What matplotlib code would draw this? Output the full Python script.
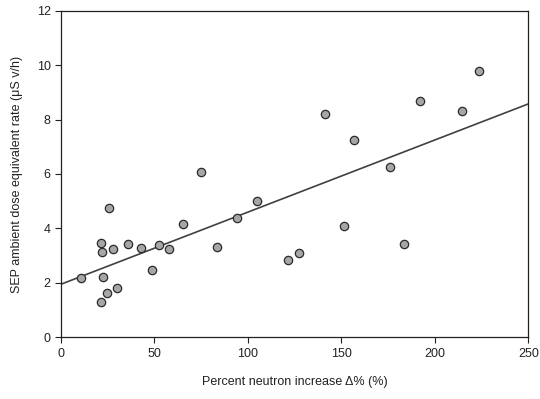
import matplotlib.pyplot as plt
import numpy as np

plt.rcParams['font.family'] = ['Liberation Sans', 'DejaVu Sans']

# Data
neutron_increase = [10.7, 21.4, 22.1, 25.7, 28.0, 22.6, 24.4, 21.6, 30.1, 35.7,
                    42.8, 48.7, 52.4, 57.8, 65.4, 74.9, 83.5, 94.0, 104.9, 121.3,
                    127.5, 141.1, 151.3, 156.6, 176.0, 183.7, 192.2, 214.3, 223.8]
dose_rate = [2.18, 3.46, 3.13, 4.74, 3.25, 2.23, 1.62, 1.29, 1.82, 3.42,
             3.29, 2.48, 3.38, 3.24, 4.16, 6.07, 3.32, 4.39, 5.01, 2.84,
             3.09, 8.20, 4.10, 7.24, 6.27, 3.42, 8.67, 8.30, 9.77]

# Linear fit line (intercept, slope) as shown in the figure
fit_intercept = 1.95
fit_slope = 0.0265

fig = plt.figure(figsize=(5.4, 3.99), dpi=100)
ax = fig.add_axes([61 / 540, 1 - 337.3 / 399, 467.3 / 540, 326.6 / 399])

xfit = np.array([0, 250])
ax.plot(xfit, fit_intercept + fit_slope * xfit, color='#404040', lw=1.2, zorder=2)

ax.scatter(neutron_increase, dose_rate, s=36, facecolor='#a6a6a6',
           edgecolor='#2b2b2b', linewidth=0.9, zorder=3, clip_on=False)

ax.set_xlim(0, 250)
ax.set_ylim(0, 12)
ax.set_xticks([0, 50, 100, 150, 200, 250])
ax.set_yticks([0, 2, 4, 6, 8, 10, 12])
ax.tick_params(direction='out', length=4, width=0.8, labelsize=9, colors='#222222')
for s in ax.spines.values():
    s.set_color('#222222')
    s.set_linewidth(0.9)

ax.set_xlabel('Percent neutron increase \u0394% (%)', fontsize=9, labelpad=12, color='#222222')
ax.set_ylabel('SEP ambient dose equivalent rate (\u03bcS v/h)', fontsize=9, labelpad=10, color='#222222')

plt.savefig('out.png', dpi=100)
